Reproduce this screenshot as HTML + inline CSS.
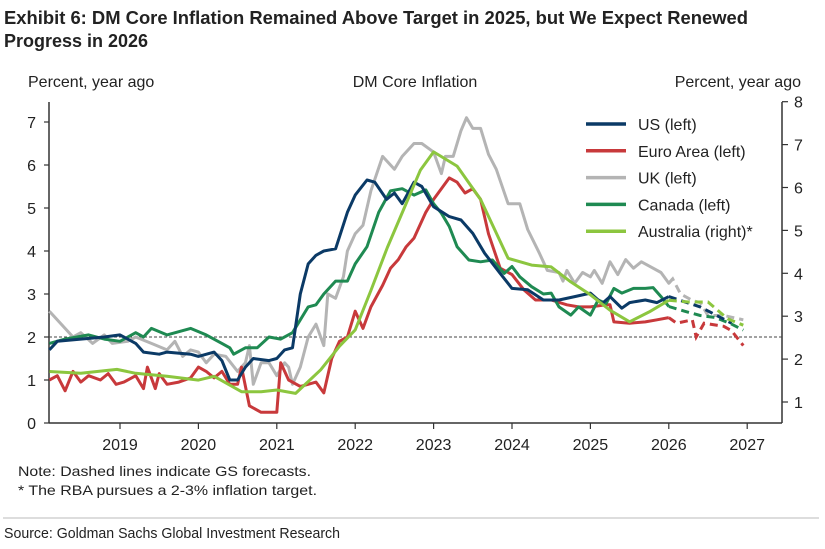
<!DOCTYPE html>
<html><head><meta charset="utf-8"><style>
html,body{margin:0;padding:0;background:#fff;}
svg{display:block;font-family:"Liberation Sans",sans-serif;}
</style></head><body>
<svg id="chart" width="825" height="549" viewBox="0 0 825 549" xmlns="http://www.w3.org/2000/svg">
<text x="4" y="24" font-size="18" font-weight="bold" fill="#222" textLength="744" lengthAdjust="spacingAndGlyphs">Exhibit 6: DM Core Inflation Remained Above Target in 2025, but We Expect Renewed</text>
<text x="4" y="47" font-size="18" font-weight="bold" fill="#222" textLength="144" lengthAdjust="spacingAndGlyphs">Progress in 2026</text>
<text x="28" y="87" font-size="16" fill="#222">Percent, year ago</text>
<text x="415" y="87" font-size="16" fill="#222" text-anchor="middle">DM Core Inflation</text>
<text x="801" y="87" font-size="16" fill="#222" text-anchor="end">Percent, year ago</text>
<g id="axes"></g>
<g id="series"></g>
<g id="legend"></g>
<text x="18" y="476" font-size="14" fill="#222" textLength="293" lengthAdjust="spacingAndGlyphs">Note: Dashed lines indicate GS forecasts.</text>
<text x="18" y="495" font-size="14" fill="#222" textLength="299" lengthAdjust="spacingAndGlyphs">* The RBA pursues a 2-3% inflation target.</text>
<line x1="3" y1="518" x2="819" y2="518" stroke="#bbb" stroke-width="1"/>
<text x="4" y="538" font-size="15" fill="#222" textLength="336" lengthAdjust="spacingAndGlyphs">Source: Goldman Sachs Global Investment Research</text>
</svg>
<script>
const xTickYears = [2019,2020,2021,2022,2023,2024,2025,2026,2027];
const leftTicks = [0,1,2,3,4,5,6,7];
const rightTicks = [1,2,3,4,5,6,7,8];
const forecastStart = 2026.05;
const targetLevel = 2;

const usDates = [2018.1,2018.2,2018.5,2018.8,2019.0,2019.2,2019.3,2019.5,2019.6,2019.9,2020.0,2020.2,2020.3,2020.4,2020.5,2020.6,2020.7,2020.9,2021.0,2021.1,2021.2,2021.3,2021.4,2021.5,2021.6,2021.75,2021.9,2022.0,2022.15,2022.25,2022.4,2022.5,2022.6,2022.75,2022.85,2023.0,2023.2,2023.35,2023.5,2023.65,2023.85,2024.0,2024.2,2024.4,2024.6,2024.8,2025.0,2025.15,2025.25,2025.4,2025.5,2025.7,2025.85,2026.0,2026.4,2026.8];
const usValues = [1.7,1.9,1.95,2.0,2.05,1.85,1.65,1.6,1.65,1.6,1.55,1.65,1.45,1.0,1.0,1.3,1.5,1.45,1.5,1.7,1.75,3.0,3.7,3.9,4.0,4.05,4.9,5.3,5.65,5.6,5.2,5.35,5.1,5.6,5.5,5.03,4.8,4.72,4.41,3.95,3.48,3.13,3.1,2.86,2.86,2.94,3.02,2.78,2.94,2.67,2.8,2.86,2.8,2.94,2.7,2.32];

const euDates = [2018.1,2018.2,2018.3,2018.4,2018.5,2018.6,2018.75,2018.85,2018.95,2019.05,2019.2,2019.3,2019.35,2019.45,2019.5,2019.6,2019.75,2019.9,2020.0,2020.1,2020.2,2020.3,2020.4,2020.5,2020.55,2020.65,2020.8,2021.0,2021.05,2021.15,2021.3,2021.4,2021.5,2021.6,2021.7,2021.8,2021.9,2022.0,2022.1,2022.2,2022.35,2022.45,2022.55,2022.65,2022.75,2022.9,2023.0,2023.2,2023.3,2023.4,2023.5,2023.6,2023.7,2023.85,2024.0,2024.15,2024.3,2024.5,2024.7,2024.85,2025.0,2025.2,2025.25,2025.3,2025.5,2025.7,2025.85,2026.0,2026.1,2026.3,2026.35,2026.45,2026.7,2026.8,2026.95];
const euValues = [1.0,1.1,0.75,1.2,0.95,1.1,1.0,1.15,0.9,0.95,1.1,0.8,1.3,0.8,1.15,0.9,0.95,1.05,1.3,1.2,1.05,1.2,0.9,0.9,1.3,0.4,0.25,0.25,1.4,1.0,0.85,0.9,0.95,0.7,1.5,1.9,2.0,2.6,2.2,2.7,3.2,3.6,3.8,4.1,4.3,4.9,5.2,5.7,5.6,5.35,5.45,5.2,4.4,3.6,3.45,3.1,2.86,2.86,2.75,2.7,2.7,2.75,2.75,2.35,2.32,2.35,2.4,2.45,2.32,2.4,2.0,2.32,2.25,2.15,1.8];

const ukDates = [2018.1,2018.3,2018.4,2018.5,2018.65,2018.8,2018.9,2019.1,2019.2,2019.4,2019.6,2019.7,2019.8,2019.9,2020.0,2020.1,2020.2,2020.35,2020.5,2020.6,2020.65,2020.7,2020.8,2020.9,2021.0,2021.1,2021.15,2021.2,2021.3,2021.4,2021.5,2021.6,2021.65,2021.75,2021.85,2021.9,2022.0,2022.1,2022.2,2022.35,2022.5,2022.6,2022.75,2022.85,2023.0,2023.1,2023.15,2023.25,2023.35,2023.42,2023.5,2023.6,2023.7,2023.8,2023.95,2024.1,2024.2,2024.35,2024.45,2024.6,2024.65,2024.7,2024.8,2024.9,2025.0,2025.05,2025.15,2025.25,2025.35,2025.45,2025.55,2025.65,2025.75,2025.9,2026.0,2026.05,2026.15,2026.3,2026.4,2026.5,2026.7,2026.95];
const ukValues = [2.6,2.2,2.0,2.1,1.85,2.05,1.85,1.9,2.0,1.85,1.7,1.9,1.55,1.7,1.65,1.4,1.6,1.55,1.2,1.4,1.8,0.9,1.4,1.4,1.1,1.4,1.3,0.9,1.3,2.0,2.3,1.8,3.0,2.9,3.4,4.0,4.4,4.6,5.4,6.2,5.9,6.2,6.5,6.5,6.3,5.8,6.2,6.2,6.8,7.1,6.85,6.85,6.25,5.9,5.1,5.1,4.5,3.95,3.55,3.5,3.3,3.55,3.25,3.5,3.4,3.55,3.25,3.75,3.45,3.8,3.6,3.75,3.65,3.5,3.25,3.35,3.0,2.85,2.8,2.5,2.5,2.4];

const caDates = [2018.1,2018.3,2018.6,2018.8,2019.0,2019.2,2019.3,2019.4,2019.6,2019.9,2020.1,2020.3,2020.4,2020.45,2020.6,2020.75,2020.9,2021.05,2021.2,2021.4,2021.5,2021.6,2021.75,2021.9,2022.0,2022.15,2022.3,2022.45,2022.6,2022.75,2022.9,2023.0,2023.1,2023.2,2023.3,2023.45,2023.6,2023.75,2023.9,2024.0,2024.1,2024.25,2024.4,2024.5,2024.6,2024.75,2024.85,2025.0,2025.1,2025.2,2025.3,2025.4,2025.55,2025.7,2025.8,2025.9,2026.0,2026.2,2026.4,2026.6,2026.8,2026.95];
const caValues = [1.85,1.95,2.05,1.95,1.9,2.1,2.0,2.2,2.05,2.2,2.05,1.85,1.75,1.6,1.75,1.75,2.0,1.95,2.1,2.7,2.75,3.0,3.3,3.3,3.7,4.1,4.9,5.4,5.45,5.3,5.42,5.1,4.88,4.57,4.1,3.79,3.75,3.79,3.48,3.64,3.4,3.17,3.0,3.02,2.7,2.51,2.7,2.51,2.86,2.78,3.13,3.02,3.13,3.13,3.15,2.94,2.71,2.6,2.5,2.45,2.3,2.16];

const auDates = [2018.1,2018.5,2018.96,2019.2,2019.6,2020.0,2020.2,2020.55,2020.8,2021.0,2021.24,2021.56,2021.8,2022.0,2022.2,2022.41,2022.62,2022.83,2023.0,2023.3,2023.6,2023.95,2024.25,2024.5,2024.75,2025.0,2025.25,2025.5,2025.75,2026.0,2026.25,2026.5,2026.75,2026.95];
const auValues = [1.71,1.67,1.76,1.67,1.6,1.51,1.6,1.24,1.24,1.28,1.2,1.75,2.3,2.68,3.6,4.6,5.5,6.4,6.83,6.5,5.72,4.35,4.19,4.15,3.8,3.5,3.14,2.87,3.1,3.37,3.33,3.33,2.94,2.79];

const NS = "http://www.w3.org/2000/svg";
const plotL = 49, plotR = 782, plotB = 423;
function xScale(d){ return 120 + (d - 2019) * 78.4; }
function yLeft(v){ return 423 - v * 43; }
function yRight(v){ return 402 - (v - 1) * 42.9; }
function mk(tag, attrs, parent){ const e = document.createElementNS(NS, tag); for (const k in attrs) e.setAttribute(k, attrs[k]); parent.appendChild(e); return e; }

const axes = document.getElementById('axes');
const la = mk('line', {x1:plotL,y1:102,x2:plotL,y2:plotB,stroke:'#333','stroke-width':1.5}, axes);


const ra = mk('line', {x1:plotR,y1:102,x2:plotR,y2:plotB,stroke:'#333','stroke-width':1.5}, axes);


const xa = mk('line', {x1:plotL,y1:plotB,x2:plotR,y2:plotB,stroke:'#333','stroke-width':1.5}, axes);


const tl = mk('line', {x1:plotL,y1:yLeft(targetLevel),x2:plotR,y2:yLeft(targetLevel),stroke:'#444','stroke-width':1,'stroke-dasharray':'3,2'}, axes);



leftTicks.forEach(v => {
  const y = yLeft(v);
  mk('line', {x1:plotL-5,y1:y,x2:plotL,y2:y,stroke:'#333','stroke-width':1.2}, axes);
  const t = mk('text', {x:36,y:y+6,'font-size':16,fill:'#222','text-anchor':'end'}, axes);
  t.textContent = v;
  
  
});
rightTicks.forEach(v => {
  const y = yRight(v);
  mk('line', {x1:plotR,y1:y,x2:plotR+6,y2:y,stroke:'#333','stroke-width':1.2}, axes);
  const t = mk('text', {x:794,y:y+6,'font-size':16,fill:'#222'}, axes);
  t.textContent = v;
  
  
});
xTickYears.forEach(yr => {
  const x = xScale(yr);
  mk('line', {x1:x,y1:plotB,x2:x,y2:plotB+6,stroke:'#333','stroke-width':1.2}, axes);
  const t = mk('text', {x:x,y:450,'font-size':16,fill:'#222','text-anchor':'middle'}, axes);
  t.textContent = yr;
  
  
});

const seriesG = document.getElementById('series');
function drawSeries(name, dates, values, yfn, color){
  const solid = [], dashed = [];
  dates.forEach((d, i) => {
    const p = xScale(d).toFixed(1) + ',' + yfn(values[i]).toFixed(1);
    if (d <= forecastStart) solid.push(p);
    if (d >= 2025.99) dashed.push(p);
  });
  const s = mk('polyline', {points:solid.join(' '),fill:'none',stroke:color,'stroke-width':3,'stroke-linejoin':'round'}, seriesG);
  
  
  if (dashed.length > 1){
    const f = mk('polyline', {points:dashed.join(' '),fill:'none',stroke:color,'stroke-width':3,'stroke-dasharray':'8,5'}, seriesG);
    
    
  }
}
drawSeries('uk', ukDates, ukValues, yLeft, '#b4b4b4');
drawSeries('euro-area', euDates, euValues, yLeft, '#c8393b');
drawSeries('canada', caDates, caValues, yLeft, '#1f8a52');
drawSeries('us', usDates, usValues, yLeft, '#0b3a66');
drawSeries('australia', auDates, auValues, yRight, '#8cc63f');

const legendItems = [['US (left)','#0b3a66','legend-us'],['Euro Area (left)','#c8393b','legend-euro-area'],['UK (left)','#b4b4b4','legend-uk'],['Canada (left)','#1f8a52','legend-canada'],['Australia (right)*','#8cc63f','legend-australia']];
const lg = document.getElementById('legend');
legendItems.forEach((it, i) => {
  const y = 124 + i * 26.8;
  const g = mk('g', {}, lg);
  
  
  mk('line', {x1:586,y1:y,x2:626,y2:y,stroke:it[1],'stroke-width':3.5}, g);
  const t = mk('text', {x:638,y:y+6,'font-size':16,fill:'#222'}, g);
  t.textContent = it[0];
});
</script>
</body></html>
